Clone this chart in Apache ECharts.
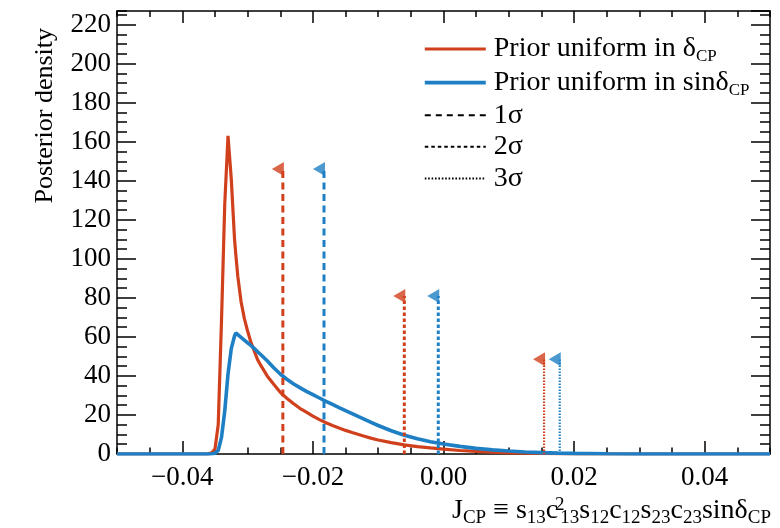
<!DOCTYPE html>
<html><head><meta charset="utf-8">
<script src="https://cdn.jsdelivr.net/npm/echarts@6/dist/echarts.min.js"></script>
<style>html,body{margin:0;padding:0;background:#fff}#c{width:780px;height:528px}</style>
</head><body><div id="c"></div>
<script>
// ---------------- data ----------------
const jGrid = [-0.050, -0.040, -0.037, -0.0365, -0.036, -0.0355, -0.035, -0.0345, -0.034, -0.0335,
  -0.033, -0.0325, -0.032, -0.0318, -0.0315, -0.031, -0.0305, -0.030, -0.0295, -0.029,
  -0.0285, -0.028, -0.027, -0.026, -0.025, -0.024, -0.023, -0.022, -0.021, -0.020,
  -0.019, -0.018, -0.017, -0.016, -0.015, -0.014, -0.013, -0.012, -0.011, -0.010,
  -0.008, -0.006, -0.004, -0.002, 0.000, 0.0025, 0.005, 0.0075, 0.010, 0.0125,
  0.015, 0.0175, 0.020, 0.025, 0.030, 0.050];
const redDensity = [0, 0, 0, 0, 0.1, 0.6, 2.5, 15, 68, 128,
  163, 141, 110, 102, 91, 78, 69.5, 63, 57.3, 52.9,
  48.6, 45.5, 40, 35.7, 31.6, 28.6, 25.9, 23.4, 21.4, 19.4,
  17.6, 16.0, 14.6, 13.3, 12.1, 11.0, 10.0, 9.0, 8.0, 7.2,
  5.8, 4.7, 3.8, 3.1, 2.5, 1.8, 1.3, 0.9, 0.6, 0.4,
  0.25, 0.15, 0.1, 0.03, 0, 0];
const blueDensity = [0, 0, 0, 0, 0, 0.1, 0.4, 1.8, 8.5, 22,
  41, 54, 60.5, 62, 61.3, 59.8, 58.4, 57, 55.6, 54.1,
  52.5, 51, 47.8, 44.2, 41, 38.3, 36, 34, 32.1, 30.4,
  28.7, 27, 25.4, 23.8, 22.2, 20.7, 19.1, 17.6, 16.1, 14.6,
  11.9, 9.6, 7.8, 6.3, 5.1, 3.9, 2.9, 2.1, 1.5, 1.0,
  0.7, 0.45, 0.3, 0.1, 0.03, 0];
const sigmaLabels = ['1σ', '2σ', '3σ'];
const redSigmaJ = [-0.0246, -0.0060, 0.0154];
const blueSigmaJ = [-0.0183, -0.0008, 0.0178];
const sigmaMarkerHeight = [146, 81, 48.5];
const xMajorTicks = [-0.04, -0.02, 0, 0.02, 0.04];
const redName = 'Prior uniform in δCP';
const blueName = 'Prior uniform in sinδCP';

// ---------------- styles ----------------
const FONT = 'Liberation Serif';
const RED = '#d0401c';
const BLUE = '#1f7fc4';
const sigmaDash = [[7, 4.5], [3.5, 2.5], [1.5, 1.5]];
const sigmaWidth = [3, 3, 2.2];
const legendDash = [[6, 5], [3.5, 3], [1.6, 1.8]];
const legendWidth = [2, 2, 2];

const pairs = (xs, ys) => xs.map((x, i) => [x, ys[i]]);

const series = [
  { name: redName, type: 'line', data: pairs(jGrid, redDensity), symbol: 'none', z: 3,
    lineStyle: { color: RED, width: 3.2 }, itemStyle: { color: RED } },
  { name: blueName, type: 'line', data: pairs(jGrid, blueDensity), symbol: 'none', z: 4,
    lineStyle: { color: BLUE, width: 3.6 }, itemStyle: { color: BLUE } }
];
sigmaLabels.forEach((s, i) => {
  series.push({ name: s, type: 'line', data: [], symbol: 'none',
    lineStyle: { color: '#000', width: legendWidth[i], type: legendDash[i] }, itemStyle: { color: '#000' } });
});
[[redSigmaJ, RED, 'red'], [blueSigmaJ, BLUE, 'blue']].forEach(([js, col, tag]) => {
  js.forEach((j, i) => {
    series.push({ name: tag + ' ' + sigmaLabels[i], type: 'line', symbol: 'none', z: 5,
      data: [[j, 0], [j, sigmaMarkerHeight[i]]],
      lineStyle: { color: col, width: sigmaWidth[i], type: sigmaDash[i] } });
  });
  series.push({ name: tag + ' markers', type: 'scatter', z: 6,
    data: pairs(js, sigmaMarkerHeight),
    symbol: 'triangle', symbolSize: [14, 12], symbolRotate: 90, symbolOffset: [-5, 0],
    itemStyle: { color: col } });
});

const tickStyle = { color: '#000', width: 1.5 };
const fmtX = v => (v < -1e-9 ? '−' : '') + Math.abs(v).toFixed(2);
const xBase = { type: 'value', min: -0.05, max: 0.05, splitLine: { show: false } };
const yBase = { type: 'value', min: 0, max: 227, splitLine: { show: false } };

const legendRich = {
  sub: { fontFamily: FONT, fontSize: 17, lineHeight: 17, padding: [15, 0, 0, 0], color: '#000' }
};
const titleRich = {
  sub: { fontFamily: FONT, fontSize: 19, lineHeight: 19, padding: [14, 0, 0, 0], color: '#000' },
  sup: { fontFamily: FONT, fontSize: 19, lineHeight: 19, padding: [0, 0, 11, 1], color: '#000', width: 1, align: 'left' }
};

const option = {
  animation: false,
  backgroundColor: '#fff',
  grid: { left: 117, right: 10, top: 11, bottom: 74, containLabel: false, outerBoundsMode: 'none' },
  xAxis: [
    Object.assign({}, xBase, { position: 'bottom',
      axisLine: { show: true, onZero: false, lineStyle: tickStyle },
      axisTick: { show: true, inside: true, length: 13, customValues: xMajorTicks, lineStyle: tickStyle },
      axisLabel: { show: true, customValues: xMajorTicks, formatter: fmtX, fontFamily: FONT, fontSize: 27, color: '#000', margin: 10 } }),
    Object.assign({}, xBase, { position: 'bottom', interval: 0.005,
      axisLine: { show: false, onZero: false },
      axisTick: { show: true, inside: true, length: 6.5, lineStyle: tickStyle },
      axisLabel: { show: false } }),
    Object.assign({}, xBase, { position: 'top',
      axisLine: { show: true, onZero: false, lineStyle: tickStyle },
      axisTick: { show: true, inside: true, length: 12, customValues: xMajorTicks, lineStyle: tickStyle },
      axisLabel: { show: false } }),
    Object.assign({}, xBase, { position: 'top', interval: 0.005,
      axisLine: { show: false, onZero: false },
      axisTick: { show: true, inside: true, length: 6, lineStyle: tickStyle },
      axisLabel: { show: false } })
  ],
  yAxis: [
    Object.assign({}, yBase, { position: 'left', interval: 20,
      axisLine: { show: true, onZero: false, lineStyle: tickStyle },
      axisTick: { show: true, inside: true, length: 19, lineStyle: tickStyle },
      axisLabel: { show: true, showMaxLabel: false, fontFamily: FONT, fontSize: 27, color: '#000', margin: 6 } }),
    Object.assign({}, yBase, { position: 'left', interval: 5,
      axisLine: { show: false, onZero: false },
      axisTick: { show: true, inside: true, length: 10, lineStyle: tickStyle },
      axisLabel: { show: false } }),
    Object.assign({}, yBase, { position: 'right', interval: 20,
      axisLine: { show: true, onZero: false, lineStyle: tickStyle },
      axisTick: { show: true, inside: true, length: 19, lineStyle: tickStyle },
      axisLabel: { show: false } }),
    Object.assign({}, yBase, { position: 'right', interval: 5,
      axisLine: { show: false, onZero: false },
      axisTick: { show: true, inside: true, length: 10, lineStyle: tickStyle },
      axisLabel: { show: false } })
  ],
  legend: {
    orient: 'vertical', left: 418, top: 28, itemWidth: 61, itemHeight: 14, itemGap: 1.6,
    selectedMode: false,
    data: [
      { name: redName, itemStyle: { opacity: 0 }, lineStyle: { color: RED, width: 3.2, type: 'solid' } },
      { name: blueName, itemStyle: { opacity: 0 }, lineStyle: { color: BLUE, width: 3.6, type: 'solid' } },
      { name: '1σ', itemStyle: { opacity: 0 }, lineStyle: { color: '#000', width: legendWidth[0], type: legendDash[0] } },
      { name: '2σ', itemStyle: { opacity: 0 }, lineStyle: { color: '#000', width: legendWidth[1], type: legendDash[1] } },
      { name: '3σ', itemStyle: { opacity: 0 }, lineStyle: { color: '#000', width: legendWidth[2], type: legendDash[2] } }
    ],
    formatter: n => n.replace('δCP', 'δ{sub|CP}'),
    textStyle: { fontFamily: FONT, fontSize: 28, lineHeight: 30, color: '#000', padding: [0, 0, 0, 3], rich: legendRich }
  },
  graphic: [
    { type: 'text', x: 45, y: 28, rotation: Math.PI / 2,
      style: { text: 'Posterior density', fontFamily: FONT, fontSize: 26, fill: '#000', align: 'right', verticalAlign: 'middle' } },
    { type: 'text', x: 771, y: 511,
      style: { text: 'J{sub|CP} ≡ s{sub|13}c{sup|2}{sub|13}s{sub|12}c{sub|12}s{sub|23}c{sub|23}sinδ{sub|CP}',
        fontFamily: FONT, fontSize: 28, lineHeight: 30, fill: '#000', align: 'right', verticalAlign: 'middle', rich: titleRich } }
  ],
  series: series
};

const chart = echarts.init(document.getElementById('c'), null, { renderer: 'canvas' });
chart.setOption(option);
</script>
</body></html>
